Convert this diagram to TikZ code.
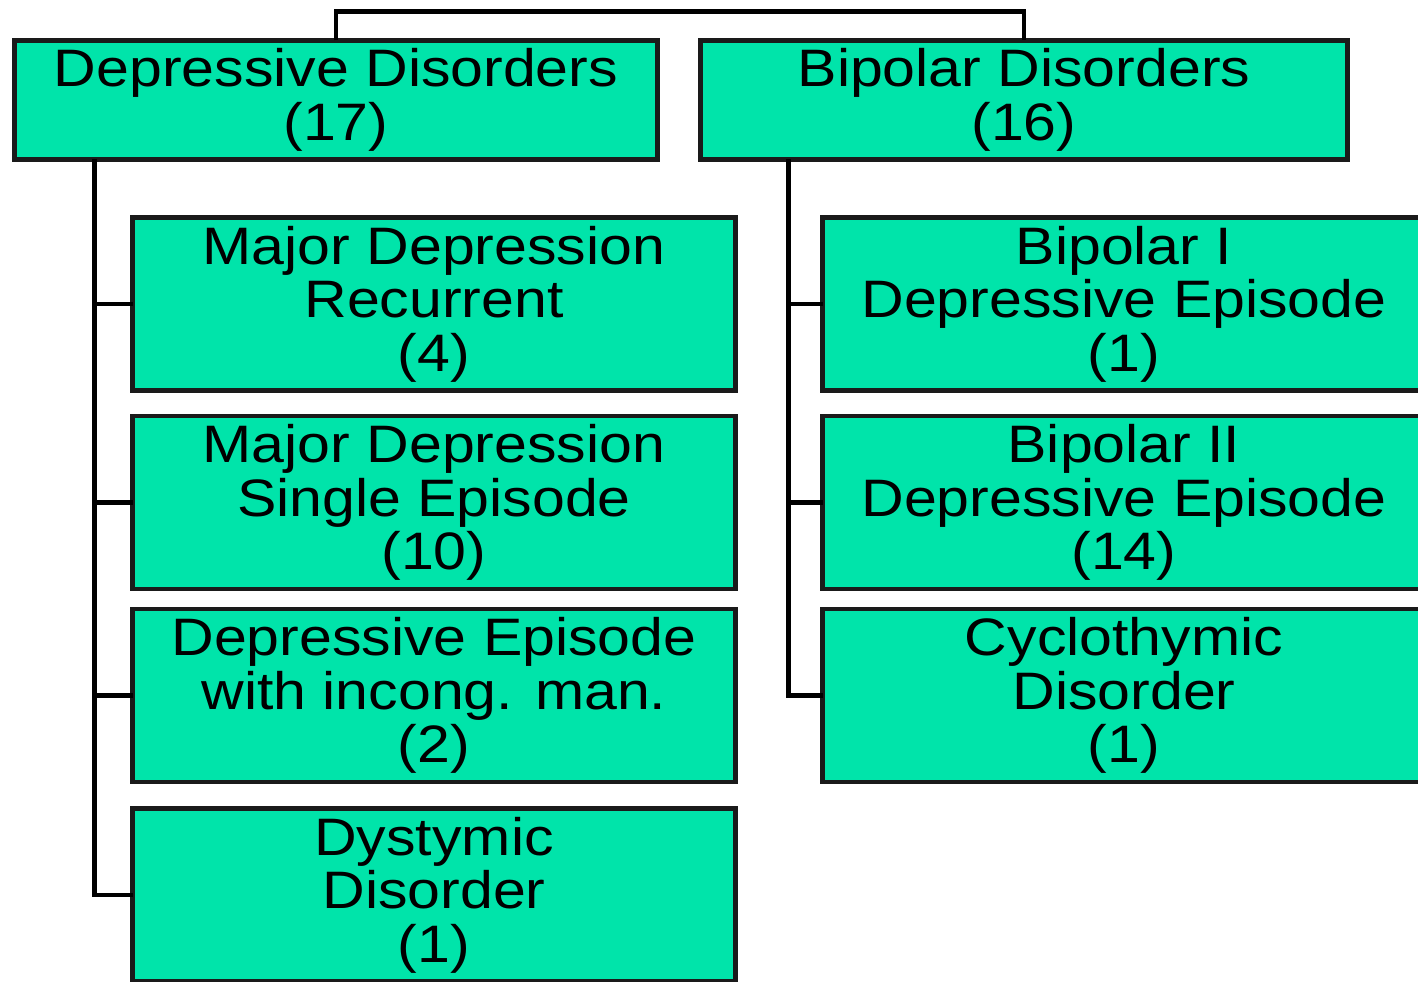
\documentclass[tikz,border=0pt]{standalone}
\usepackage{fontspec}
\setmainfont[FakeStretch=1.12]{Liberation Sans}
\definecolor{boxgreen}{RGB}{0,228,170}
\definecolor{boxline}{RGB}{26,26,26}
\tikzset{
	catbox/.style={draw=boxline, fill=boxgreen, line width=2.8pt, rectangle, outer sep=0pt,
		align=center, inner sep=0pt, font=\fontsize{30}{30.4}\selectfont},
	topbox/.style={catbox, minimum height=2.38cm},
	subbox/.style={catbox, minimum width=12.06cm, minimum height=3.46cm},
	link/.style={line width=2.8pt, black, line join=miter}
}
\begin{document}
\begin{tikzpicture}[x=0.02cm, y=0.02cm]
		%%%%% START %%%%%
		\useasboundingbox (0, 0) rectangle (1418, 982);
		\clip (0, 0) rectangle (1418, 982);
		
		\node[topbox, minimum width=12.86cm] (dd) at (336, 882) {Depressive Disorders\\(17)};
		\node[topbox, minimum width=12.96cm] (bd) at (1024, 882) {Bipolar Disorders\\(16)};
		
		\node[subbox] (mdr) at (434, 678) {Major Depression\\Recurrent\\(4)};
		\node[subbox] (mds) at (434, 479.5) {Major Depression\\Single Episode\\(10)};
		\node[subbox] (dep) at (434, 286.5) {Depressive Episode\\with incong. man.\\(2)};
		\node[subbox] (dys) at (434, 87) {Dystymic\\Disorder\\(1)};
		
		\node[subbox] (bp1) at (1124, 678) {Bipolar I\\Depressive Episode\\(1)};
		\node[subbox] (bp2) at (1124, 479.5) {Bipolar II\\Depressive Episode\\(14)};
		\node[subbox] (cyc) at (1124, 286.5) {Cyclothymic\\Disorder\\(1)};
		
		\draw[link] (dd.north) -- ++(0, 29) -| (bd.north);
		
		\path (dd.south west) ++(80, 0) coordinate (ltop);
		\draw[link] (ltop) |- (dys.west);
		\foreach \n in {mdr, mds, dep}
			\draw[link] (ltop |- \n.west) -- (\n.west);
		
		\path (bd.south west) ++(88, 0) coordinate (rtop);
		\draw[link] (rtop) |- (cyc.west);
		\foreach \n in {bp1, bp2}
			\draw[link] (rtop |- \n.west) -- (\n.west);
		%%%%% END %%%%%
\end{tikzpicture}
\end{document}
